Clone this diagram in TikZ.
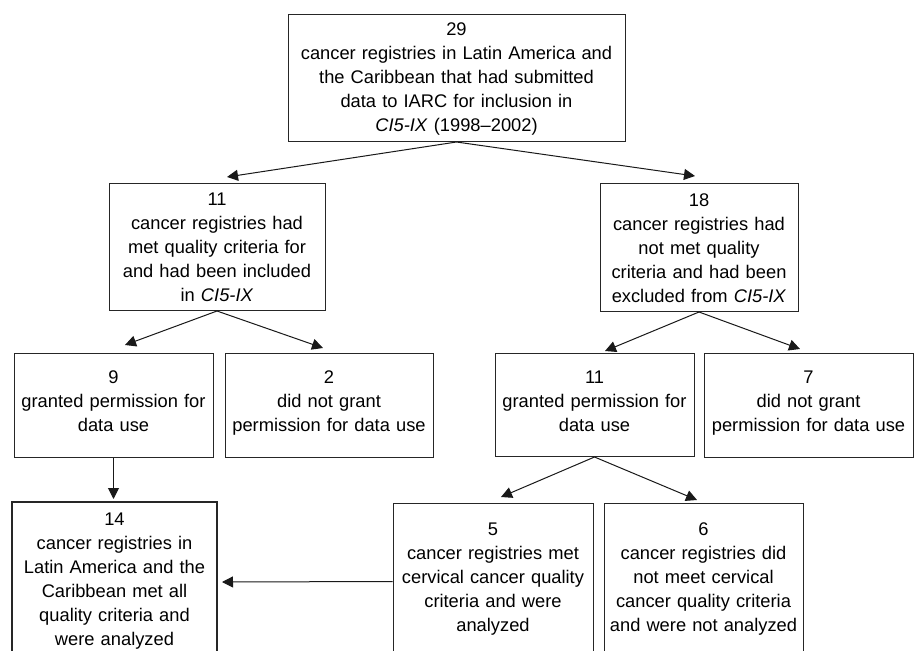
\documentclass[tikz,border=0pt]{standalone}
\usepackage{fontspec}
\setmainfont{Liberation Sans}
\usetikzlibrary{arrows.meta}
\begin{document}
\begin{tikzpicture}[x=1pt,y=-1pt,
  box/.style={draw=black!85, line width=1pt, anchor=north, align=center,
    inner ysep=0pt, inner xsep=4pt, font=\fontsize{18.3}{24}\selectfont},
  arr/.style={draw=black!90, line width=1pt, -{Triangle[length=11pt,width=11pt]}}]
\useasboundingbox (0,0) rectangle (914,651);
\clip (0,0) rectangle (914,651);
\fill[white] (0,0) rectangle (914,651);

\node[box, text width=329pt, text height=20.8pt, text depth=106.2pt] (top) at (456.5,14)
  {29\\cancer registries in Latin America and\\the Caribbean that had submitted\\data to IARC for inclusion in\\\textit{CI5-IX} (1998–2002)};

\node[box, text width=208pt, text height=21.8pt, text depth=105.2pt] (b11) at (217,183)
  {11\\cancer registries had\\met quality criteria for\\and had been included\\in \textit{CI5-IX}};
\node[box, text width=190pt, text height=22.8pt, text depth=105.2pt] (b18) at (699,183)
  {18\\cancer registries had\\not met quality\\criteria and had been\\excluded from \textit{CI5-IX}};

\node[box, text width=191pt, text height=29.5pt, text depth=74.5pt] (b9) at (113.5,353)
  {9\\granted permission for\\data use};
\node[box, text width=200pt, text height=29.5pt, text depth=74.5pt] (b2) at (329,353)
  {2\\did not grant\\permission for data use};
\node[box, text width=191pt, text height=29.5pt, text depth=73.5pt] (b11r) at (594.5,353)
  {11\\granted permission for\\data use};
\node[box, text width=201pt, text height=29.5pt, text depth=74.5pt] (b7) at (808.5,353)
  {7\\did not grant\\permission for data use};

\node[box, line width=2pt, text width=197pt, text height=23.5pt, text depth=136.5pt] (b14) at (114.5,501)
  {14\\cancer registries in\\Latin America and the\\Caribbean met all\\quality criteria and\\were analyzed};
\node[box, text width=192pt, text height=31.8pt, text depth=124.2pt] (b5) at (493,503)
  {5\\cancer registries met\\cervical cancer quality\\criteria and were\\analyzed};
\node[box, text width=191pt, text height=31.8pt, text depth=124.2pt] (b6) at (703.5,503)
  {6\\cancer registries did\\not meet cervical\\cancer quality criteria\\and were not analyzed};

\draw[arr] (top.south) -- ([xshift=10pt,yshift=6pt]b11.north);
\draw[arr] (top.south) -- ([xshift=-4pt,yshift=7pt]b18.north);
\draw[arr] (b11.south) -- ([xshift=11.5pt,yshift=8pt]b9.north);
\draw[arr] (b11.south) -- ([xshift=-6pt,yshift=5pt]b2.north);
\draw[arr] (b18.south) -- ([xshift=10.5pt,yshift=2pt]b11r.north);
\draw[arr] (b18.south) -- ([xshift=-8.5pt,yshift=4pt]b7.north);
\draw[arr] (b11r.south) -- ([xshift=8pt,yshift=6pt]b5.north);
\draw[arr] (b11r.south) -- ([xshift=-6.5pt,yshift=3pt]b6.north);
\draw[arr] (b9.south) -- ([yshift=2pt]b9.south |- b14.north);
\draw[arr] (b5.west) -- ([xshift=4pt]b14.east);
\end{tikzpicture}
\end{document}
